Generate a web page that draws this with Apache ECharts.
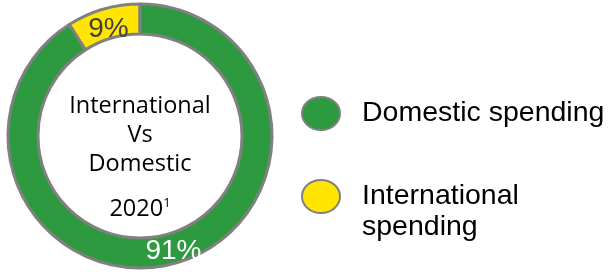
<!DOCTYPE html>
<html>
<head>
<meta charset="utf-8">
<title>International Vs Domestic 2020</title>
<script src="https://cdn.jsdelivr.net/npm/echarts@6/dist/echarts.min.js"></script>
<style>
  html, body { margin: 0; padding: 0; background: #fff; }
  #chart { width: 613px; height: 279px; }
</style>
</head>
<body>
<div id="chart"></div>
<script>
var categories = ["International spending", "Domestic spending"];
var shares = [9, 91];
var sliceColors = ["#ffe500", "#2e9a40"];
var labelColors = ["#404040", "#ffffff"];
var centerLines = ["International", "Vs", "Domestic"];
var centerYear = "2020";

var chart = echarts.init(document.getElementById("chart"));

// small nudge for the narrow slice label so it sits like the original
var labelOffsets = [[2, 9], [0, 0]];

var data = categories.map(function (c, i) {
    return {
        name: c,
        value: shares[i],
        itemStyle: { color: sliceColors[i] },
        label: { color: labelColors[i], offset: labelOffsets[i] }
    };
});

var ellipse = "path://M38,16.5A19,16.5 0 1,1 0,16.5A19,16.5 0 1,1 38,16.5Z";

function makeLegend(name, top) {
    return {
        orient: "vertical",
        left: 301,
        top: top,
        padding: 0,
        itemWidth: 38,
        itemHeight: 33,
        icon: ellipse,
        itemStyle: { borderColor: "#808080", borderWidth: 2 },
        selectedMode: false,
        textStyle: {
            fontFamily: "Liberation Sans, Arial, sans-serif",
            fontSize: 28.5,
            color: "#000",
            lineHeight: 31,
            padding: [0, 0, 0, 17]
        },
        data: [name],
        // the two-line label: a leading blank line keeps the icon level with the first line
        formatter: function (n) {
            return n === "International spending" ? "\nInternational\nspending" : n;
        }
    };
}

chart.setOption({
    animation: false,
    legend: [
        makeLegend("Domestic spending", 96),
        makeLegend("International spending", 150)
    ],
    graphic: [{
        type: "text",
        x: 140,
        y: 92,
        style: {
            text: centerLines.join("\n"),
            fontFamily: "Open Sans, Noto Sans, sans-serif",
            fontSize: 23.5,
            lineHeight: 29,
            fill: "#000",
            align: "center"
        }
    }, {
        type: "text",
        x: 140,
        y: 195,
        style: {
            text: "{y|" + centerYear + "}{s|1}",
            align: "center",
            rich: {
                y: { fontFamily: "Open Sans, Noto Sans, sans-serif", fontSize: 23.5, color: "#000", lineHeight: 28 },
                s: { fontFamily: "Open Sans, Noto Sans, sans-serif", fontSize: 13, color: "#000", lineHeight: 28, padding: [0, 0, 12, 0] }
            }
        }
    }],
    series: [{
        type: "pie",
        center: [140, 136],
        radius: [102, 132],
        startAngle: 90,
        clockwise: false,
        silent: true,
        itemStyle: { borderColor: "#808080", borderWidth: 3 },
        label: {
            show: true,
            position: "inside",
            formatter: "{d}%",
            fontFamily: "Liberation Sans, Arial, sans-serif",
            fontSize: 28
        },
        labelLine: { show: false },
        data: data
    }]
});
</script>
</body>
</html>
